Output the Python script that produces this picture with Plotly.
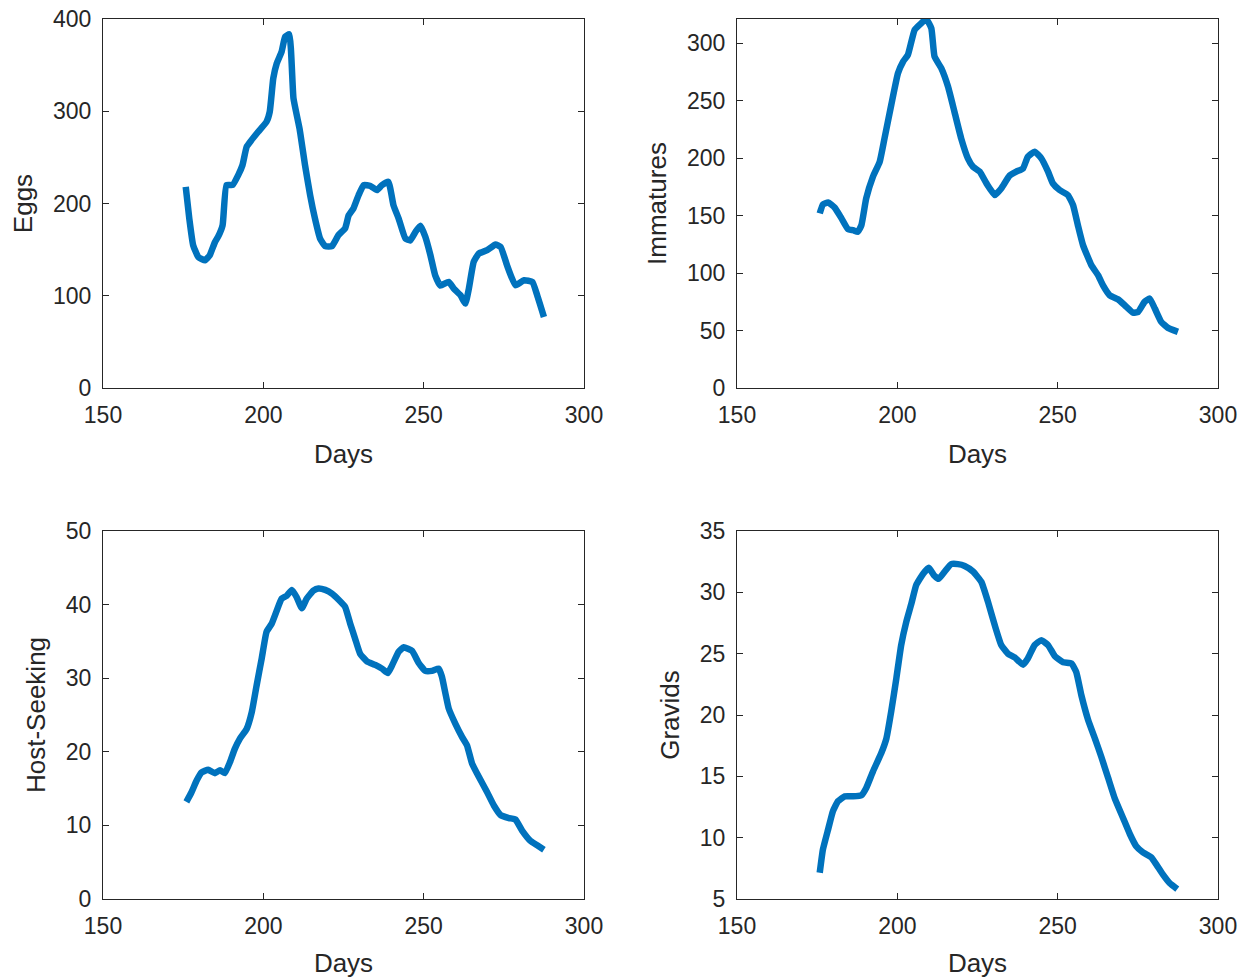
import plotly.graph_objects as go

# ---- data ----
eggs_days = [175.8, 176.9, 178.1, 179.7, 181.8, 183.3, 184.9, 185.9, 187.3, 188.5, 190.4, 192.2, 193.5,
             194.8, 196.3, 198.4, 201.0, 202.0, 203.1, 204.2, 205.7, 206.8, 208.1, 209.4, 211.3, 213.0,
             214.6, 216.1, 217.7, 219.3, 221.4, 223.4, 225.5, 226.6, 228.1, 229.7, 231.3, 233.4, 235.4,
             237.0, 239.0, 240.6, 242.2, 244.3, 245.8, 247.4, 249.0, 250.5, 252.1, 253.6, 255.2, 257.8,
             259.4, 261.5, 263.0, 264.1, 265.6, 267.2, 269.8, 272.4, 274.0, 276.0, 278.6, 281.3, 283.9,
             285.4, 287.5]
eggs = [218, 184, 155, 142, 138.5, 144, 158, 164, 176.5, 220, 220, 231, 241.6,
        261.5, 268.7, 277.8, 288.6, 299.5, 335.6, 352, 364.6, 380.8, 383.4, 314, 281, 241.6,
        209, 183.7, 162, 153.7, 153.7, 165.6, 173, 187, 194.6, 209, 220, 219, 214.5,
        220, 223.5, 198, 183.7, 162, 160, 169, 175.8, 164, 144, 122, 111, 115,
        107.8, 100.5, 91.5, 107.8, 136.7, 145.8, 149.4, 155.5, 153, 133, 111.4, 116.8, 115,
        100.5, 77]

imm_days = [175.8, 176.8, 178.4, 180.5, 182.5, 184.6, 186.2, 187.7, 188.8, 190.3, 192.4, 194.5, 196.0,
            198.1, 200.2, 201.8, 203.3, 205.4, 207.5, 209.0, 210.6, 211.6, 213.7, 215.8, 217.8, 219.9,
            222.0, 223.6, 225.7, 227.8, 230.4, 232.4, 235.0, 237.1, 239.2, 240.7, 242.8, 244.9, 247.0,
            248.5, 250.6, 253.2, 254.8, 256.3, 257.9, 260.5, 262.6, 264.1, 266.2, 268.8, 270.9, 273.5,
            275.1, 277.1, 278.7, 280.3, 282.3, 284.4, 287.5]
immatures = [151.9, 159.7, 161.4, 156.8, 148, 138.2, 137.3, 135.9, 141.7, 165, 183.8, 196.9, 217.2,
             246.2, 273.8, 284, 289.8, 311.6, 317.4, 321, 313, 288.3, 278.2, 262.2, 240.4, 217.2,
             199.8, 192.5, 188.2, 178, 167.8, 173.6, 184.7, 188.2, 191, 201.2, 205.6, 199.8, 188.2,
             178, 172.2, 167.8, 159.1, 141.7, 124.3, 106.9, 98.1, 89.4, 80.7, 77.2, 72, 65.6,
             66.2, 74.9, 77.8, 69.1, 57.5, 52.3, 48.8]

host_days = [176.0, 177.6, 179.2, 180.7, 182.8, 184.9, 186.5, 188.0, 189.6, 191.1, 192.7, 194.8, 196.4,
             197.9, 199.5, 201.0, 202.6, 204.2, 205.7, 207.3, 208.9, 210.4, 212.0, 213.5, 215.6, 217.2,
             219.3, 221.4, 223.4, 225.5, 227.1, 228.6, 230.2, 232.3, 234.9, 237.0, 238.8, 240.1, 242.2,
             243.8, 246.4, 248.4, 250.5, 252.6, 254.7, 255.7, 256.8, 257.8, 259.9, 262.0, 263.5, 265.1,
             267.2, 269.8, 271.9, 274.0, 276.6, 278.6, 280.7, 283.3, 285.4, 287.5]
host_seeking = [13.2, 14.5, 16.1, 17.2, 17.55, 17.1, 17.5, 17.1, 18.6, 20.4, 21.8, 23.1, 25.4,
                29, 32.7, 36.3, 37.4, 39.2, 40.8, 41.2, 42, 41, 39.5, 40.8, 41.9, 42.2,
                42, 41.5, 40.7, 39.7, 37.4, 35.4, 33.3, 32.3, 31.8, 31.3, 30.7, 31.7, 33.6,
                34.2, 33.7, 32.1, 31, 31, 31.3, 30.2, 27.9, 25.9, 23.8, 22, 20.9, 18.4,
                16.6, 14.5, 12.7, 11.4, 11, 10.8, 9.3, 7.9, 7.3, 6.7]

grav_days = [175.8, 176.8, 178.4, 179.9, 181.5, 183.6, 186.2, 188.8, 190.3, 192.4, 195.0, 196.6, 198.1,
             199.7, 201.2, 202.8, 204.4, 205.9, 208.0, 209.8, 211.4, 212.9, 214.8, 216.8, 218.9, 221.0,
             223.6, 226.2, 228.3, 230.4, 232.4, 234.5, 236.6, 239.2, 240.7, 242.8, 244.9, 247.0, 249.1,
             251.7, 254.3, 255.8, 257.4, 259.5, 261.6, 263.6, 265.7, 267.8, 270.4, 272.5, 274.5, 276.6,
             279.2, 280.8, 282.8, 284.9, 287.3]
gravids = [7.14, 9.04, 10.66, 12.15, 12.97, 13.37, 13.37, 13.46, 14.05, 15.4, 16.9, 18.1, 20.3,
           23, 25.7, 27.6, 29.1, 30.6, 31.5, 32, 31.4, 31.1, 31.7, 32.3, 32.3, 32.15,
           31.7, 30.85, 29.2, 27.3, 25.7, 25, 24.7, 24.1, 24.6, 25.7, 26.1, 25.7, 24.8,
           24.3, 24.2, 23.5, 21.6, 19.6, 18.1, 16.6, 14.9, 13.2, 11.6, 10.3, 9.3, 8.8,
           8.4, 7.8, 7, 6.3, 5.8]

x_label = "Days"
y_labels = ["Eggs", "Immatures", "Host-Seeking", "Gravids"]
y_ranges = [[0, 400], [0, 321], [0, 50], [5, 35]]
y_dticks = [100, 50, 10, 5]

W, H = 1255, 978
LINE = "#0072BD"
AX = "#262626"
FONT = "Liberation Sans, Arial, Helvetica, sans-serif"

# axes boxes in pixels: (left, right, top, bottom)
boxes = [(103, 584, 19, 388), (737, 1218, 19, 388), (103, 584, 531, 899), (737, 1218, 531, 899)]

series = [(eggs_days, eggs), (imm_days, immatures), (host_days, host_seeking), (grav_days, gravids)]

fig = go.Figure()
layout = dict(
    width=W, height=H, margin=dict(l=0, r=0, t=0, b=0, autoexpand=False),
    paper_bgcolor="white", plot_bgcolor="white", showlegend=False,
    font=dict(family=FONT, color=AX),
)
for i, ((xs, ys), (l, r, t, b)) in enumerate(zip(series, boxes)):
    n = "" if i == 0 else str(i + 1)
    fig.add_trace(go.Scatter(x=xs, y=ys, mode="lines", xaxis="x" + n, yaxis="y" + n,
                             line=dict(color=LINE, width=6.5, shape="spline", smoothing=0.4),
                             hoverinfo="skip"))
    common = dict(showline=True, linecolor=AX, linewidth=1.2, mirror="ticks", ticks="inside",
                  ticklen=6, tickwidth=1.2, tickcolor=AX, showgrid=False, zeroline=False,
                  automargin=False, tickfont=dict(size=23, color=AX, family=FONT))
    layout["xaxis" + n] = dict(common, domain=[l / W, r / W], anchor="y" + n, range=[150, 300],
                               dtick=50, tick0=150, ticklabelstandoff=6,
                               title=dict(text=x_label, font=dict(size=26, color=AX, family=FONT), standoff=18))
    layout["yaxis" + n] = dict(common, domain=[1 - b / H, 1 - t / H], anchor="x" + n,
                               range=y_ranges[i], dtick=y_dticks[i], tick0=0, ticklabelstandoff=6,
                               title=dict(text=y_labels[i], font=dict(size=26, color=AX, family=FONT), standoff=12))
fig.update_layout(**layout)
fig.write_html("out.html")
